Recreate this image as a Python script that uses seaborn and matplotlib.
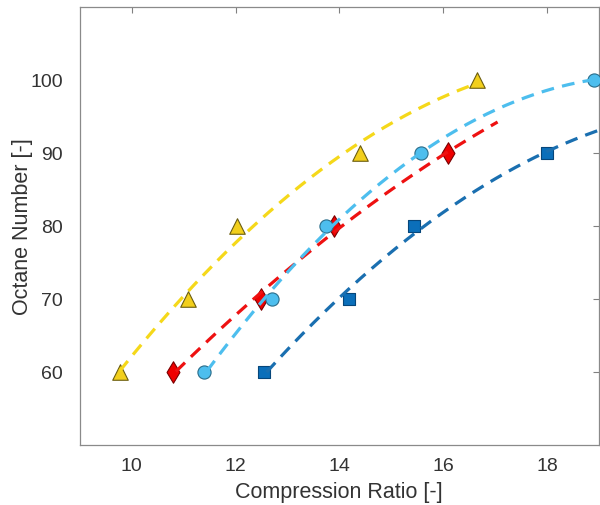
import numpy as np
import pandas as pd
import matplotlib.pyplot as plt
import seaborn as sns

# octane number levels and compression ratio
octane = [60, 70, 80, 90, 100]
octane_short = [60, 70, 80, 90]
cr_tri = [9.77, 11.08, 12.03, 14.39, 16.66]
cr_dia = [10.80, 12.50, 13.90, 16.10]
cr_circ = [11.39, 12.70, 13.74, 15.57, 18.90]
cr_sq = [12.55, 14.18, 15.43, 18.00]

sns.set_style('white')
plt.rcParams['font.family'] = ['Liberation Sans', 'DejaVu Sans']

fig = plt.figure(figsize=(6, 5.06), dpi=100)
ax = fig.add_axes([0.133, 0.1186, 0.865, 0.8656])

# (x data, y data, marker, size, face, edge, line colour, fit range)
series = [
    (cr_tri, octane, '^', 125, '#f2cf1c', '#6b5d10', '#f5d81a', (9.77, 16.55)),
    (cr_dia, octane_short, 'd', 120, '#ee0000', '#7a0000', '#ee1111', (10.85, 17.05)),
    (cr_circ, octane, 'o', 90, '#4dbeee', '#2a6d8a', '#4dbeee', (11.45, 18.9)),
    (cr_sq, octane_short, 's', 70, '#0b6fba', '#06467a', '#1a6fb0', (12.6, 19.0)),
]

for xs, ys, mk, sz, fc, ec, lc, rng in series:
    sns.scatterplot(x=xs, y=ys, marker=mk, s=sz, color=fc, edgecolor=ec,
                    linewidth=0.8, ax=ax, zorder=3)

for xs, ys, mk, sz, fc, ec, lc, rng in series:
    # quadratic trend through each series
    coef = np.polyfit(xs, ys, 2)
    fx = np.linspace(rng[0], rng[1], 200)
    fit = pd.DataFrame({'x': fx, 'y': np.polyval(coef, fx)})
    sns.lineplot(data=fit, x='x', y='y', color=lc, linewidth=2.3,
                 linestyle=(0, (4, 2.6)), ax=ax, zorder=4)

ax.set_xlim(9, 19)
ax.set_ylim(50, 110)
ax.set_xticks([10, 12, 14, 16, 18])
ax.set_yticks([60, 70, 80, 90, 100])
ax.tick_params(direction='in', top=True, right=True, length=4, width=0.8,
               color='#808080', labelsize=14, labelcolor='#333333')
ax.tick_params(axis='x', pad=9)
ax.tick_params(axis='y', pad=12)
for sp in ax.spines.values():
    sp.set_color('#8a8a8a')
    sp.set_linewidth(0.9)

ax.set_xlabel('Compression Ratio [-]', fontsize=15.5, color='#333333', labelpad=5)
ax.set_ylabel('Octane Number [-]', fontsize=15.5, color='#333333')
ax.yaxis.set_label_coords(-0.09, 0.5)

fig.savefig('out.png', dpi=100)
